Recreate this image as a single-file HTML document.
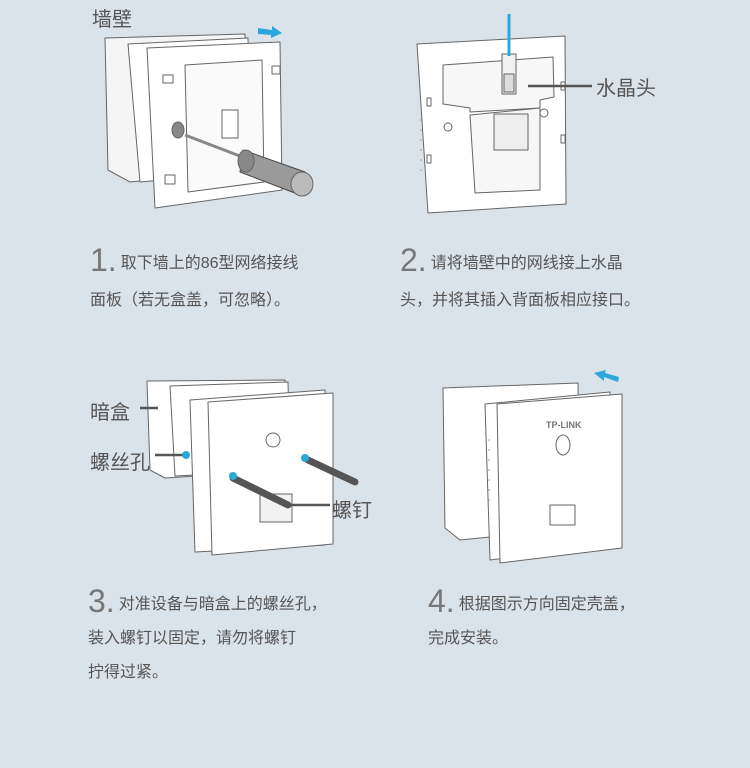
<!DOCTYPE html>
<html><head><meta charset="utf-8"><style>
html,body{margin:0;padding:0}
body{width:750px;height:768px;background:#dbe3ea;position:relative;overflow:hidden;font-family:"Liberation Sans","Noto Sans CJK SC",sans-serif;color:#555}
.t{position:absolute;font-size:16px;white-space:nowrap;color:#555}
.n{font-size:32px;font-weight:200;color:#777;vertical-align:-3px;margin-right:4px;font-family:"Liberation Sans",sans-serif}
.l{position:absolute;font-size:20px;color:#555;white-space:nowrap}
svg{position:absolute;left:0;top:0}
</style></head><body>
<svg width="750" height="768" viewBox="0 0 750 768">
<g fill="#fff" stroke="#666" stroke-width="1" stroke-linejoin="round">
<!-- 1 -->
<path d="M105,38 L245,34 L252,170 L130,182 L108,170 Z" fill="#f5f5f5"/>
<path d="M128,44 L248,38 L250,172 L140,182 Z"/>
<path d="M147,48 L280,42 L282,190 L155,208 Z"/>
<path d="M185,65 L262,60 L264,182 L188,192 Z" fill="#fafafa"/>
<rect x="163" y="75" width="10" height="8"/><rect x="272" y="66" width="8" height="8"/>
<rect x="165" y="175" width="10" height="9"/>
<rect x="222" y="110" width="16" height="28"/>
<ellipse cx="178" cy="130" rx="6" ry="8" fill="#888"/>
<path d="M185,135 L245,158" stroke="#888" stroke-width="3"/>
<path d="M243,150 L305,172 L300,195 L240,172 Z" fill="#9a9a9a" stroke="#444"/>
<ellipse cx="246" cy="161" rx="8" ry="11" fill="#888"/>
<ellipse cx="302" cy="184" rx="11" ry="12" fill="#bbb"/>
<!-- 2 -->
<path d="M417,44 L565,36 L566,204 L428,213 Z"/>
<path d="M443,65 L553,57 L554,97 L540,100 L540,108 L470,112 L470,108 L443,104 Z" fill="#f7f7f7"/>
<path d="M470,115 L540,108 L540,190 L475,193 Z" fill="#f7f7f7"/>
<rect x="494" y="114" width="34" height="36" fill="#eee"/>
<rect x="502" y="54" width="14" height="40" fill="#f0f0f0"/>
<rect x="504" y="74" width="10" height="18" fill="#ddd"/>
<circle cx="448" cy="127" r="4"/><circle cx="544" cy="113" r="4"/>
<rect x="427" y="98" width="4" height="8"/><rect x="427" y="155" width="4" height="8"/>
<rect x="561" y="82" width="4" height="8"/><rect x="561" y="135" width="4" height="8"/>
<!-- 3 -->
<path d="M147,381 L285,380 L290,470 L165,478 L150,470 Z"/>
<path d="M170,386 L288,382 L290,470 L175,476 Z"/>
<path d="M190,400 L325,390 L325,545 L195,552 Z"/>
<path d="M208,402 L333,393 L333,544 L212,555 Z"/>
<circle cx="273" cy="440" r="7"/>
<rect x="260" y="494" width="32" height="28" fill="#f2f2f2"/>
<!-- 4 -->
<path d="M443,388 L578,383 L580,528 L460,540 L445,528 Z"/>
<path d="M485,404 L610,392 L612,545 L490,560 Z"/>
<path d="M497,404 L622,394 L622,548 L500,563 Z"/>
<ellipse cx="563" cy="445" rx="7" ry="10"/>
<rect x="550" y="505" width="25" height="20"/>
</g>
<g fill="#999"><circle cx="421" cy="120" r="0.8"/><circle cx="421" cy="130" r="0.8"/><circle cx="421" cy="140" r="0.8"/><circle cx="421" cy="150" r="0.8"/><circle cx="421" cy="160" r="0.8"/><circle cx="421" cy="170" r="0.8"/><circle cx="489" cy="440" r="0.8"/><circle cx="489" cy="450" r="0.8"/><circle cx="489" cy="460" r="0.8"/><circle cx="489" cy="470" r="0.8"/><circle cx="489" cy="480" r="0.8"/><circle cx="489" cy="490" r="0.8"/><circle cx="489" cy="500" r="0.8"/></g>
<g stroke="#555" stroke-width="2.5"><line x1="528" y1="86" x2="592" y2="86"/><line x1="140" y1="408" x2="158" y2="408"/><line x1="155" y1="455" x2="185" y2="455"/><line x1="285" y1="505" x2="330" y2="505"/></g>
<g stroke="#555" stroke-width="7" stroke-linecap="round"><line x1="233" y1="478" x2="288" y2="505"/><line x1="308" y1="460" x2="355" y2="482"/></g>
<line x1="509" y1="14" x2="509" y2="56" stroke="#2aa8dc" stroke-width="3"/>
<g fill="#2aa8dc"><circle cx="233" cy="476" r="4"/><circle cx="305" cy="458" r="4"/><circle cx="186" cy="455" r="4"/>
<path d="M258,28 L272,30 L272,26 L282,33 L271,38 L271,35 L258,34 Z"/>
<path d="M618,382 L604,377 L604,381 L594,373 L606,370 L605,373 L619,377 Z"/></g>
<text x="546" y="428" font-size="9" font-weight="bold" fill="#777" font-family="Liberation Sans">TP-LINK</text>
</svg>
<div class="l" style="left:92px;top:3px">墙壁</div>
<div class="l" style="left:596px;top:72px">水晶头</div>
<div class="l" style="left:90px;top:396px">暗盒</div>
<div class="l" style="left:90px;top:446px">螺丝孔</div>
<div class="l" style="left:332px;top:494px">螺钉</div>
<div class="t" style="left:90px;top:242px"><span class="n">1.</span>取下墙上的86型网络接线</div>
<div class="t" style="left:90px;top:286px">面板（若无盒盖，可忽略）。</div>
<div class="t" style="left:400px;top:242px"><span class="n">2.</span>请将墙壁中的网线接上水晶</div>
<div class="t" style="left:400px;top:286px">头，并将其插入背面板相应接口。</div>
<div class="t" style="left:88px;top:583px"><span class="n">3.</span>对准设备与暗盒上的螺丝孔，</div>
<div class="t" style="left:88px;top:624px">装入螺钉以固定，请勿将螺钉</div>
<div class="t" style="left:88px;top:658px">拧得过紧。</div>
<div class="t" style="left:428px;top:583px"><span class="n">4.</span>根据图示方向固定壳盖，</div>
<div class="t" style="left:428px;top:624px">完成安装。</div>
</body></html>
